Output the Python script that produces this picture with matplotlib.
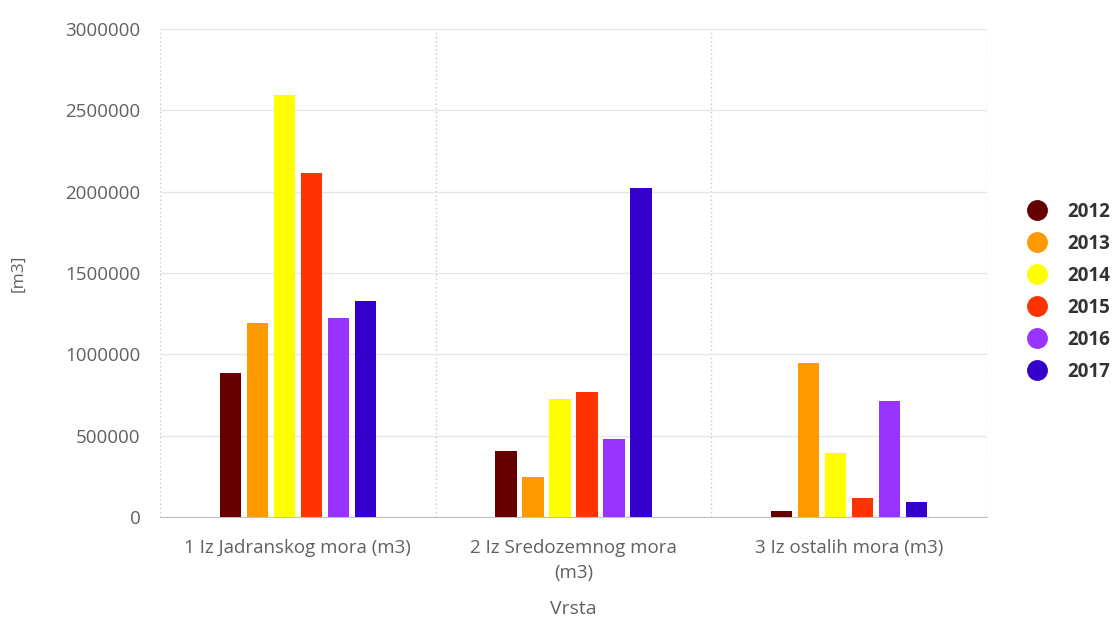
import numpy as np
import matplotlib
matplotlib.use("Agg")
import matplotlib.pyplot as plt
from matplotlib.lines import Line2D

plt.rcParams['font.family'] = ['Open Sans', 'DejaVu Sans']

# data
categories = ['1 Iz Jadranskog mora (m3)', '2 Iz Sredozemnog mora\n(m3)', '3 Iz ostalih mora (m3)']
years = ['2012', '2013', '2014', '2015', '2016', '2017']
v2012 = [885000, 406000, 37000]
v2013 = [1192000, 246000, 946000]
v2014 = [2594000, 725000, 393000]
v2015 = [2114000, 768000, 117000]
v2016 = [1223000, 479000, 713000]
v2017 = [1328000, 2022000, 92000]
series = [v2012, v2013, v2014, v2015, v2016, v2017]
colors = ['#660000', '#FF9900', '#FFFF00', '#FF3300', '#9933FF', '#3300CC']

fig = plt.figure(figsize=(11.19, 6.17), dpi=100)
ax = fig.add_axes([0.143, 0.162, 0.739, 0.791])

x = np.arange(len(categories))
slot = 0.098
width = 0.077
for i, (vals, c) in enumerate(zip(series, colors)):
    ax.bar(x + (i - 2.5) * slot, vals, width=width, color=c, zorder=3)

ax.set_xlim(-0.5, 2.5)
ax.set_ylim(0, 3000000)
ax.set_yticks(np.arange(0, 3000001, 500000))
ax.set_yticklabels([str(v) for v in range(0, 3000001, 500000)])
ax.yaxis.grid(True, color='#e6e6e6', linewidth=1, zorder=0)

# category separators (dotted)
for b in [-0.5, 0.5, 1.5, 2.5]:
    ax.axvline(b, color='#c8c8c8', linestyle=(0, (1, 2)), linewidth=1, zorder=1)

ax.set_xticks(x)
ax.set_xticklabels(categories, linespacing=1.45)
for s in ['top', 'right', 'left']:
    ax.spines[s].set_visible(False)
ax.spines['bottom'].set_color('#c0c0c0')
ax.tick_params(axis='both', length=0, colors='#606060', labelsize=13.5)
ax.tick_params(axis='y', pad=14)
ax.tick_params(axis='x', pad=16)

ax.set_xlabel('Vrsta', color='#606060', fontsize=14, labelpad=13)
ax.set_ylabel('[m3]', color='#606060', fontsize=12.5, labelpad=28)

handles = [Line2D([0], [0], marker='o', linestyle='', markersize=14,
                  markerfacecolor=c, markeredgecolor=c) for c in colors]
leg = fig.legend(handles, years, loc='center left', bbox_to_anchor=(0.902, 0.527),
                 frameon=False, handletextpad=1.0, labelspacing=0.64,
                 prop={'weight': 'bold', 'size': 13.5}, handlelength=1.2)
for t in leg.get_texts():
    t.set_color('#333333')

fig.savefig('out.png', dpi=100)
